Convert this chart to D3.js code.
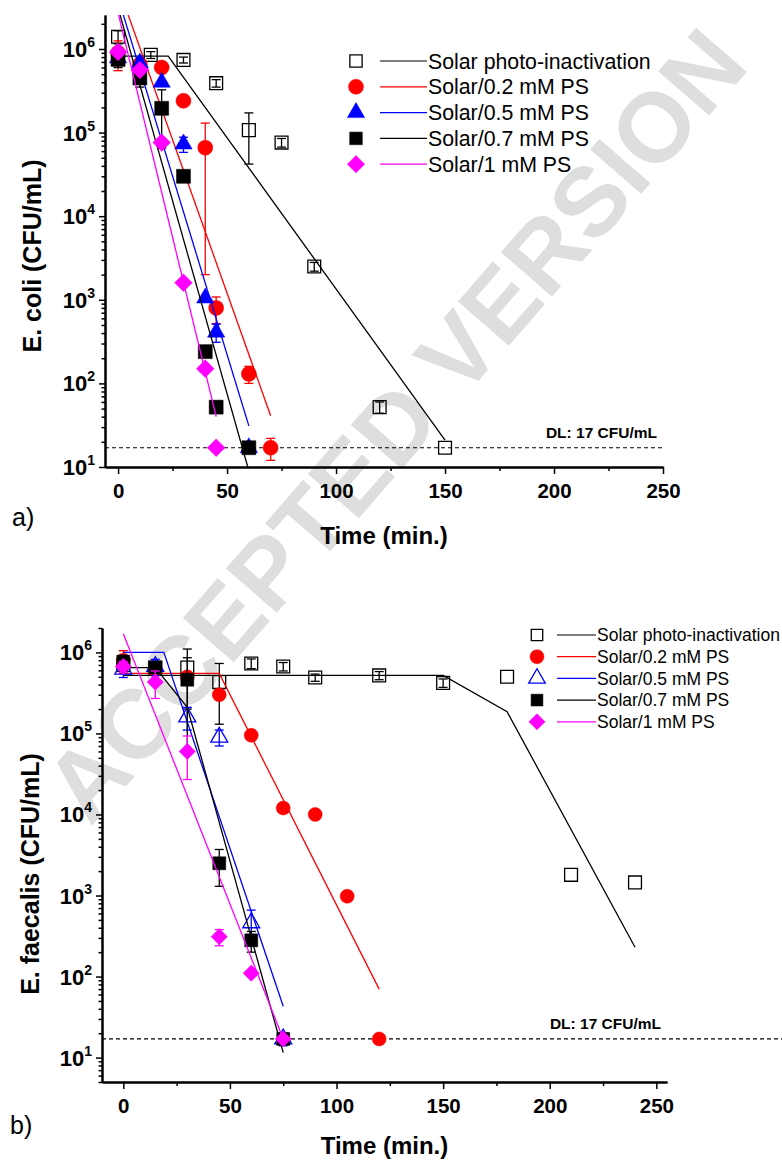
<!DOCTYPE html>
<html>
<head>
<meta charset="utf-8">
<script src="https://cdn.jsdelivr.net/npm/d3@7/dist/d3.min.js"></script>
<style>
  body { margin: 0; background: #fff; }
  svg { font-family: "Liberation Sans", Arial, sans-serif; }
  .axis path, .axis line { stroke: #000; }
  .axis .domain { stroke-width: 2px; }
  .axis line { stroke-width: 1.5px; }
</style>
</head>
<body>
<script>
// legend names (same in both panels)
var seriesNames = ["Solar photo-inactivation", "Solar/0.2 mM PS", "Solar/0.5 mM PS", "Solar/0.7 mM PS", "Solar/1 mM PS"];

// x tick labels
var xMajorTicks = [0, 50, 100, 150, 200, 250];
var xMinorTicks = [25, 75, 125, 175, 225];

// detection limit
var detectionLimit = 17;

// watermark across the page
var watermarkText = "ACCEPTED VERSION";

// ---- panel a: E. coli ----
var ecSolarT = [0, 15, 30, 45, 60, 75, 90, 120, 150];
var ecSolarV = [1.4e6, 8.5e5, 7.4e5, 3.9e5, 1.07e5, 7.6e4, 2.5e3, 52, 17];
var ecSolarSD = [2.5e5, 8e4, 6e4, 4e4, 6.5e4, 9e3, 3e2, 8, 0];
var ecSolarFitT = [0, 23, 150];
var ecSolarFitV = [8.2e5, 8.2e5, 21];

var ecPS02T = [0, 10, 20, 30, 40, 45, 60, 70];
var ecPS02V = [9e5, 6.5e5, 6e5, 2.4e5, 6.6e4, 8e2, 1.3e2, 17];
var ecPS02SD = [3.5e5, 0, 0, 0, 6.4e4, 2.8e2, 30, 5];
var ecPS02FitT = [0, 70];
var ecPS02FitV = [5.6e6, 41];

var ecPS05T = [0, 10, 20, 30, 40, 45, 60];
var ecPS05V = [7.8e5, 6.8e5, 4.0e5, 7.3e4, 1.05e3, 4.1e2, 17];
var ecPS05SD = [1e5, 1e5, 0, 1.5e4, 0, 1e2, 0];
var ecPS05FitT = [0, 60];
var ecPS05FitV = [4.1e6, 31];

var ecPS07T = [0, 10, 20, 30, 40, 45, 60];
var ecPS07V = [7.5e5, 4.5e5, 1.95e5, 3.0e4, 2.4e2, 52, 17];
var ecPS07SD = [1.5e5, 1e5, 1.3e5, 0, 0, 0, 0];
var ecPS07FitT = [0, 60];
var ecPS07FitV = [3.1e6, 9];

var ecPS1T = [0, 10, 20, 30, 40, 45];
var ecPS1V = [9.2e5, 5.6e5, 7.6e4, 1.6e3, 1.5e2, 17];
var ecPS1SD = [0, 0, 0, 0, 0, 0];
var ecPS1FitT = [0, 45];
var ecPS1FitV = [2.7e6, 40];

// ---- panel b: E. faecalis ----
var efSolarT = [0, 15, 30, 45, 60, 75, 90, 120, 150, 180, 210, 240];
var efSolarV = [7e5, 6.5e5, 6.5e5, 4.3e5, 7.3e5, 6.7e5, 4.9e5, 5.2e5, 4.2e5, 5e5, 1.8e3, 1.45e3];
var efSolarSD = [1e5, 1e5, 4.5e5, 3e5, 1e5, 8e4, 5e4, 6e4, 5e4, 0, 0, 0];
var efSolarFitT = [0, 150, 180, 240];
var efSolarFitV = [5.2e5, 5.2e5, 1.85e5, 2.3e2];

var efPS02T = [0, 15, 30, 45, 60, 75, 90, 105, 120];
var efPS02V = [8e5, 6e5, 5e5, 3e5, 9.5e4, 1.2e4, 1e4, 9.8e2, 17];
var efPS02SD = [2.5e5, 1.5e5, 0, 0, 0, 0, 0, 0, 0];
var efPS02FitT = [0, 45, 120];
var efPS02FitV = [5.5e5, 5.5e5, 70];

var efPS05T = [0, 15, 30, 45, 60, 75];
var efPS05V = [6.2e5, 6.7e5, 1.6e5, 9e4, 4.6e2, 17];
var efPS05SD = [1.3e5, 1.5e5, 5e4, 2e4, 2e2, 3];
var efPS05FitT = [0, 19, 75];
var efPS05FitV = [1e6, 1e6, 43];

var efPS07T = [0, 15, 30, 45, 60, 75];
var efPS07V = [7.7e5, 6.5e5, 4.6e5, 2.5e3, 2.8e2, 17];
var efPS07SD = [1.5e5, 1e5, 4e5, 1.2e3, 8e1, 0];
var efPS07FitT = [0, 15, 30, 75];
var efPS07FitV = [6.5e5, 6.5e5, 2.1e5, 11.5];

var efPS1T = [0, 15, 30, 45, 60, 75];
var efPS1V = [6.7e5, 4.3e5, 6e4, 3.1e2, 1.1e2, 17];
var efPS1SD = [1e5, 1.6e5, 3.3e4, 7e1, 0, 0];
var efPS1FitT = [0, 75];
var efPS1FitV = [1.7e6, 17];

// build series tables
function makeSeries(t, v, sd, fitT, fitV) {
  return {
    points: t.map(function(d, i) { return {t: d, v: v[i], sd: sd[i]}; }),
    fit: fitT.map(function(d, i) { return {t: d, v: fitV[i]}; })
  };
}

var ecSeries = [
  makeSeries(ecSolarT, ecSolarV, ecSolarSD, ecSolarFitT, ecSolarFitV),
  makeSeries(ecPS02T, ecPS02V, ecPS02SD, ecPS02FitT, ecPS02FitV),
  makeSeries(ecPS05T, ecPS05V, ecPS05SD, ecPS05FitT, ecPS05FitV),
  makeSeries(ecPS07T, ecPS07V, ecPS07SD, ecPS07FitT, ecPS07FitV),
  makeSeries(ecPS1T, ecPS1V, ecPS1SD, ecPS1FitT, ecPS1FitV)
];

var efSeries = [
  makeSeries(efSolarT, efSolarV, efSolarSD, efSolarFitT, efSolarFitV),
  makeSeries(efPS02T, efPS02V, efPS02SD, efPS02FitT, efPS02FitV),
  makeSeries(efPS05T, efPS05V, efPS05SD, efPS05FitT, efPS05FitV),
  makeSeries(efPS07T, efPS07V, efPS07SD, efPS07FitT, efPS07FitV),
  makeSeries(efPS1T, efPS1V, efPS1SD, efPS1FitT, efPS1FitV)
];

// marker styles
var colors = ["#000000", "#ff0000", "#0000ff", "#000000", "#ff00ff"];
var shapes = ["square", "circle", "triangle", "square", "diamond"];

var svg = d3.select("body").append("svg")
    .attr("width", 782)
    .attr("height", 1162)
    .style("background-color", "#fff");

// light grey watermark behind both panels
svg.append("text")
    .attr("transform", "translate(395,425) rotate(-49)")
    .attr("text-anchor", "middle")
    .attr("dominant-baseline", "central")
    .style("font-size", "98px")
    .style("font-weight", "bold")
    .style("fill", "#dedede")
    .text(watermarkText);

function symbolPath(shape, size) {
  var type = shape == "circle" ? d3.symbolCircle : shape == "triangle" ? d3.symbolTriangle : d3.symbolSquare;
  return d3.symbol().type(type).size(size)();
}

function drawMarker(g, shape, open, color, size, cx, cy) {
  g.append("path")
      .attr("d", symbolPath(shape, size))
      .attr("transform", "translate(" + cx + "," + cy + ")" + (shape == "diamond" ? " rotate(45)" : ""))
      .style("fill", open ? "none" : color)
      .style("stroke", color)
      .style("stroke-width", open ? 1.3 : 0.5);
}

function drawPanel(p, series) {
  var x = d3.scaleLinear().domain(p.xDomain).range(p.xRange);
  var y = d3.scaleLog().domain(p.yDomain).range(p.yRange);
  var g = svg.append("g");

  // clip for fit lines
  g.append("clipPath").attr("id", p.id + "-clip")
    .append("rect")
      .attr("x", p.xRange[0]).attr("y", p.yRange[1])
      .attr("width", p.xRange[1] - p.xRange[0])
      .attr("height", p.yRange[0] - p.yRange[1]);

  // detection limit line
  g.append("line")
      .attr("x1", p.xRange[0]).attr("x2", p.dlEnd)
      .attr("y1", y(detectionLimit)).attr("y2", y(detectionLimit))
      .style("stroke", "#000").style("stroke-width", 1.2)
      .style("stroke-dasharray", "4,3");
  g.append("text")
      .attr("x", p.dlTextX).attr("y", y(detectionLimit) - 10)
      .attr("text-anchor", "end")
      .style("font-weight", "bold").style("font-size", "15.5px")
      .text("DL: " + detectionLimit + " CFU/mL");

  var line = d3.line()
      .x(function(d) { return x(d.t); })
      .y(function(d) { return y(d.v); });

  series.forEach(function(s, i) {
    var color = colors[i];
    var open = p.open[i];
    var size = p.sizes[i];

    // fitted line
    g.append("path")
        .datum(s.fit)
        .attr("clip-path", "url(#" + p.id + "-clip)")
        .attr("d", line)
        .style("fill", "none")
        .style("stroke", color)
        .style("stroke-width", 1.3);

    // error bars
    s.points.filter(function(d) { return d.sd > 0; }).forEach(function(d) {
      var lo = Math.max(d.v - d.sd, p.yDomain[0]);
      var hi = d.v + d.sd;
      var cx = x(d.t);
      g.append("line")
          .attr("x1", cx).attr("x2", cx)
          .attr("y1", y(lo)).attr("y2", y(hi))
          .style("stroke", color).style("stroke-width", 1.3);
      [lo, hi].forEach(function(e) {
        g.append("line")
            .attr("x1", cx - 4.5).attr("x2", cx + 4.5)
            .attr("y1", y(e)).attr("y2", y(e))
            .style("stroke", color).style("stroke-width", 1.3);
      });
    });

    // markers
    s.points.forEach(function(d) {
      drawMarker(g, shapes[i], open, color, size, x(d.t), y(d.v));
    });

    // legend row
    var ly = p.legY + i * p.legStep;
    drawMarker(g, shapes[i], open, color, p.legSizes[i], p.legMarkerX, ly);
    g.append("line")
        .attr("x1", p.legLineX[0]).attr("x2", p.legLineX[1])
        .attr("y1", ly).attr("y2", ly)
        .style("stroke", color).style("stroke-width", 1.2);
    g.append("text")
        .attr("x", p.legLineX[1] + 1).attr("y", ly + p.legFont * 0.36)
        .style("font-size", p.legFont + "px")
        .text(seriesNames[i]);
  });

  // x axis
  g.append("g")
      .attr("class", "axis")
      .attr("transform", "translate(0," + p.yRange[0] + ")")
      .call(d3.axisBottom(x).tickValues(xMinorTicks).tickSize(4).tickSizeOuter(0).tickFormat(""));
  var xAxis = g.append("g")
      .attr("class", "axis")
      .attr("transform", "translate(0," + p.yRange[0] + ")")
      .call(d3.axisBottom(x).tickValues(xMajorTicks).tickSize(7).tickSizeOuter(0).tickFormat(d3.format("d")));
  xAxis.selectAll("text")
      .attr("y", 16)
      .style("font-size", "20.5px")
      .style("font-weight", "bold")
      .style("font-family", "'Liberation Sans', Arial, sans-serif");

  // y axis: decades and minor ticks
  var lo = Math.floor(Math.log10(p.yDomain[0])), hi = Math.ceil(Math.log10(p.yDomain[1]));
  var decades = [], minors = [];
  for (var e = lo; e <= hi; e++) {
    var base = Math.pow(10, e);
    if (base >= p.yDomain[0] && base <= p.yDomain[1]) decades.push(base);
    for (var m = 2; m <= 9; m++) {
      if (m * base >= p.yDomain[0] && m * base <= p.yDomain[1]) minors.push(m * base);
    }
  }
  g.append("g")
      .attr("class", "axis")
      .attr("transform", "translate(" + p.xRange[0] + ",0)")
      .call(d3.axisLeft(y).tickValues(minors).tickSize(3.5).tickSizeOuter(0).tickFormat(""));
  g.append("g")
      .attr("class", "axis")
      .attr("transform", "translate(" + p.xRange[0] + ",0)")
      .call(d3.axisLeft(y).tickValues(decades).tickSize(6).tickSizeOuter(0).tickFormat(""));

  decades.forEach(function(d) {
    var t = g.append("text")
        .attr("x", p.xRange[0] - 10)
        .attr("y", y(d) + 8)
        .attr("text-anchor", "end")
        .style("font-weight", "bold")
        .style("font-size", "22px");
    t.append("tspan").text("10");
    t.append("tspan").attr("dy", -10).style("font-size", "14px").text(Math.round(Math.log10(d)));
  });

  // axis titles
  g.append("text")
      .attr("x", (p.xRange[0] + p.xRange[1]) / 2)
      .attr("y", p.xTitleY)
      .attr("text-anchor", "middle")
      .style("font-weight", "bold").style("font-size", "24px")
      .text("Time (min.)");
  g.append("text")
      .attr("transform", "translate(" + p.yTitleX + "," + p.yTitleY + ") rotate(-90)")
      .attr("text-anchor", "middle")
      .style("font-weight", "bold").style("font-size", "25px")
      .text(p.yTitle);

  // panel letter
  g.append("text")
      .attr("x", p.letterX).attr("y", p.letterY)
      .style("font-size", "25px")
      .text(p.letter);
}

drawPanel({
  id: "pa",
  xDomain: [-6, 250], xRange: [105, 663],
  yDomain: [10, 2.55e6], yRange: [467, 15],
  open: [true, false, false, false, false],
  sizes: [165, 177, 130, 196, 156],
  legSizes: [150, 177, 130, 160, 150],
  legMarkerX: 356, legLineX: [380, 427], legY: 61, legStep: 25.8, legFont: 21.3,
  dlEnd: 663, dlTextX: 657,
  xTitleY: 544, yTitleX: 41, yTitleY: 256,
  yTitle: "E. coli (CFU/mL)",
  letter: "a)", letterX: 12, letterY: 526
}, ecSeries);

drawPanel({
  id: "pb",
  xDomain: [-10, 255], xRange: [102, 667],
  yDomain: [5, 2e6], yRange: [1082, 628],
  open: [true, false, true, false, false],
  sizes: [165, 154, 125, 169, 132],
  legSizes: [130, 154, 120, 140, 130],
  legMarkerX: 537, legLineX: [557, 596], legY: 635, legStep: 21.7, legFont: 17.5,
  dlEnd: 782, dlTextX: 661,
  xTitleY: 1154, yTitleX: 39, yTitleY: 874,
  yTitle: "E. faecalis (CFU/mL)",
  letter: "b)", letterX: 10, letterY: 1134
}, efSeries);
</script>
</body>
</html>
